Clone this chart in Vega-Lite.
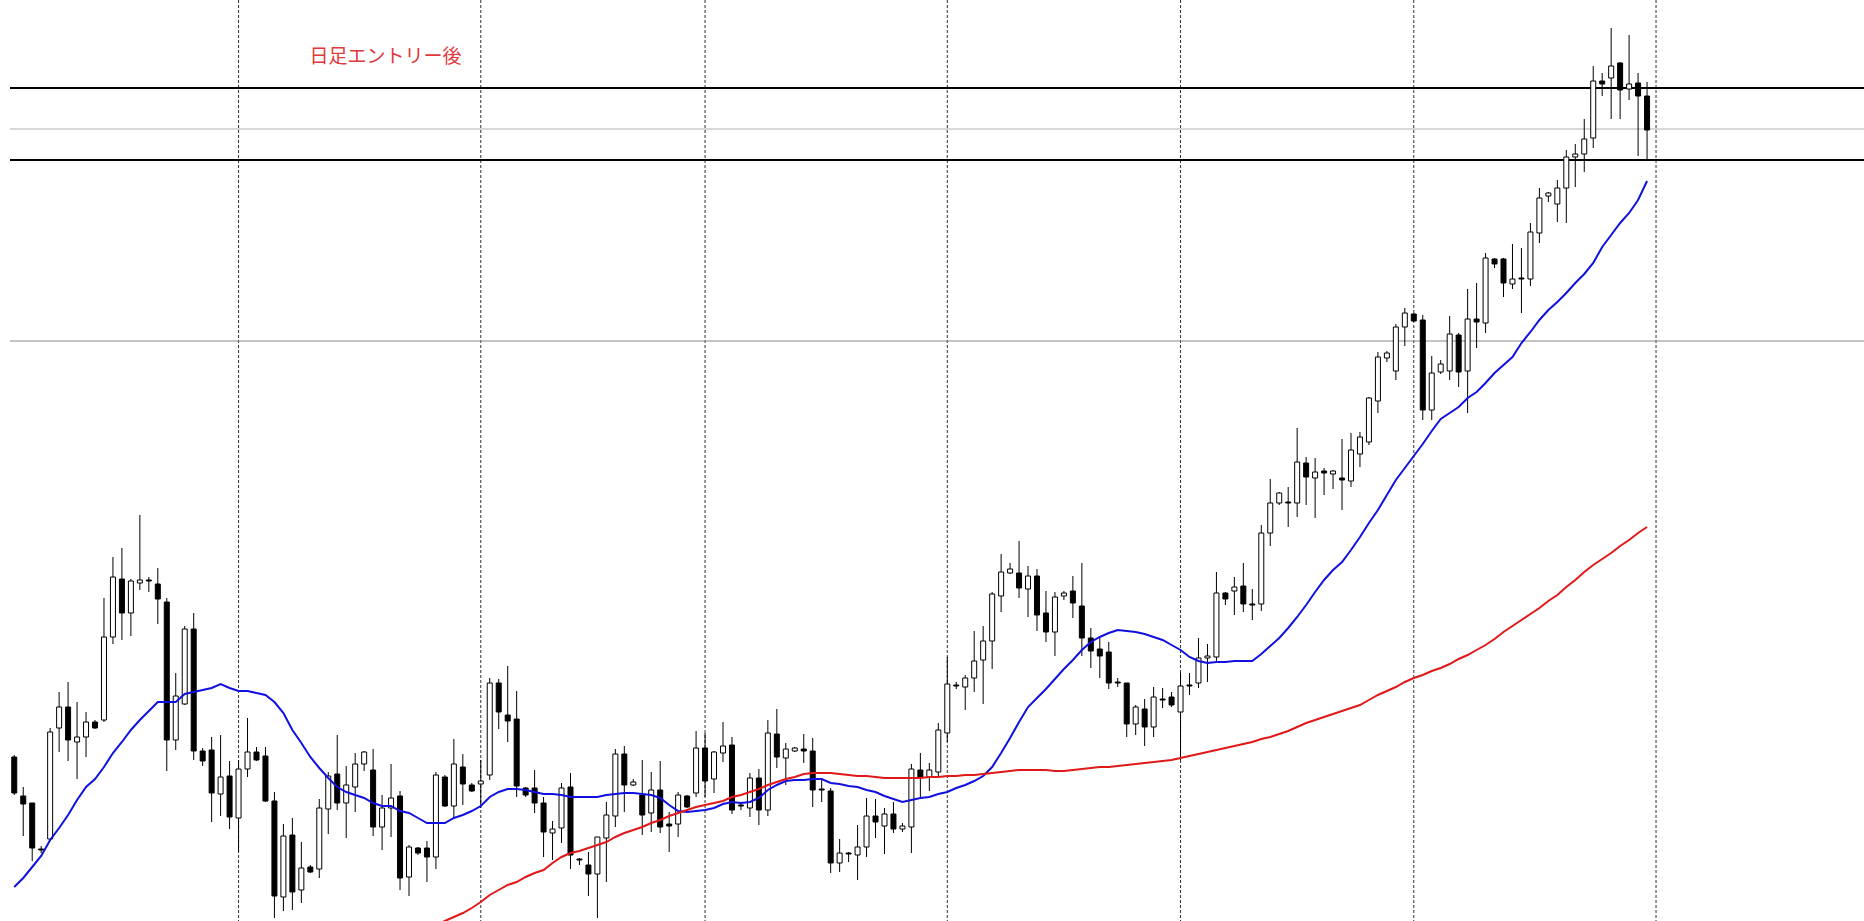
{
"$schema": "https://vega.github.io/schema/vega-lite/v6.json",
"width": 1864, "height": 921,
"autosize": {"type": "fit", "contains": "padding"},
"padding": {"left": 10, "top": 0, "right": 0, "bottom": 0},
"background": "white",
"config": {"view": {"stroke": null}},
"datasets": {
"candles": [
{"i":0,"o":243,"h":245,"l":205,"c":207,"b":113},
{"i":1,"o":204,"h":213,"l":164,"c":196,"b":122},
{"i":2,"o":197,"h":197,"l":139,"c":152,"b":133},
{"i":3,"o":151,"h":154,"l":147,"c":150,"b":144},
{"i":4,"o":161,"h":272,"l":160,"c":268,"b":160},
{"i":5,"o":272,"h":308,"l":248,"c":293,"b":172},
{"i":6,"o":293,"h":318,"l":239,"c":260,"b":185},
{"i":7,"o":258,"h":298,"l":221,"c":263,"b":200},
{"i":8,"o":263,"h":288,"l":243,"c":278,"b":213},
{"i":9,"o":278,"h":280,"l":271,"c":272,"b":221},
{"i":10,"o":280,"h":402,"l":278,"c":363,"b":233},
{"i":11,"o":363,"h":443,"l":356,"c":423,"b":247},
{"i":12,"o":421,"h":452,"l":360,"c":387,"b":258},
{"i":13,"o":387,"h":421,"l":364,"c":419,"b":270},
{"i":14,"o":417,"h":485,"l":410,"c":420,"b":280},
{"i":15,"o":420,"h":423,"l":408,"c":419,"b":289},
{"i":16,"o":416,"h":432,"l":376,"c":401,"b":298},
{"i":17,"o":398,"h":402,"l":229,"c":260,"b":298},
{"i":18,"o":260,"h":327,"l":250,"c":304,"b":298},
{"i":19,"o":296,"h":374,"l":295,"c":371,"b":306},
{"i":20,"o":371,"h":387,"l":240,"c":249,"b":308},
{"i":21,"o":249,"h":252,"l":234,"c":239,"b":310},
{"i":22,"o":250,"h":263,"l":178,"c":207,"b":312},
{"i":23,"o":206,"h":265,"l":184,"c":223,"b":316},
{"i":24,"o":224,"h":239,"l":171,"c":183,"b":312},
{"i":25,"o":182,"h":240,"l":148,"c":231,"b":309},
{"i":26,"o":231,"h":282,"l":223,"c":248,"b":309},
{"i":27,"o":248,"h":253,"l":239,"c":240,"b":307},
{"i":28,"o":244,"h":253,"l":198,"c":199,"b":305},
{"i":29,"o":199,"h":208,"l":82,"c":104,"b":298},
{"i":30,"o":103,"h":176,"l":89,"c":164,"b":287},
{"i":31,"o":165,"h":182,"l":90,"c":108,"b":270},
{"i":32,"o":110,"h":158,"l":97,"c":132,"b":257},
{"i":33,"o":133,"h":135,"l":127,"c":128,"b":243},
{"i":34,"o":131,"h":201,"l":122,"c":192,"b":232},
{"i":35,"o":191,"h":228,"l":166,"c":224,"b":222},
{"i":36,"o":226,"h":265,"l":190,"c":197,"b":213},
{"i":37,"o":197,"h":234,"l":162,"c":215,"b":208},
{"i":38,"o":213,"h":247,"l":188,"c":236,"b":205},
{"i":39,"o":236,"h":249,"l":229,"c":248,"b":202},
{"i":40,"o":230,"h":251,"l":164,"c":173,"b":197},
{"i":41,"o":173,"h":205,"l":150,"c":192,"b":194},
{"i":42,"o":192,"h":236,"l":163,"c":202,"b":194},
{"i":43,"o":204,"h":209,"l":110,"c":122,"b":189},
{"i":44,"o":123,"h":155,"l":104,"c":153,"b":187},
{"i":45,"o":152,"h":153,"l":145,"c":147,"b":182},
{"i":46,"o":152,"h":159,"l":118,"c":143,"b":177},
{"i":47,"o":143,"h":228,"l":131,"c":225,"b":177,"r":75},
{"i":48,"o":223,"h":225,"l":193,"c":194,"b":177,"r":79},
{"i":49,"o":194,"h":261,"l":182,"c":236,"b":182,"r":83},
{"i":50,"o":233,"h":246,"l":195,"c":216,"b":185,"r":87},
{"i":51,"o":215,"h":217,"l":208,"c":209,"b":189,"r":92},
{"i":52,"o":216,"h":240,"l":192,"c":219,"b":194,"r":98},
{"i":53,"o":225,"h":322,"l":220,"c":317,"b":203,"r":105},
{"i":54,"o":317,"h":321,"l":271,"c":288,"b":208,"r":110},
{"i":55,"o":285,"h":334,"l":258,"c":279,"b":211,"r":115},
{"i":56,"o":281,"h":309,"l":203,"c":214,"b":211,"r":118},
{"i":57,"o":212,"h":213,"l":203,"c":205,"b":210,"r":123},
{"i":58,"o":212,"h":230,"l":187,"c":197,"b":208,"r":127},
{"i":59,"o":197,"h":203,"l":143,"c":168,"b":206,"r":130},
{"i":60,"o":167,"h":179,"l":140,"c":171,"b":206,"r":137},
{"i":61,"o":172,"h":217,"l":157,"c":212,"b":205,"r":143},
{"i":62,"o":213,"h":227,"l":131,"c":145,"b":203,"r":147},
{"i":63,"o":141,"h":142,"l":135,"c":140,"b":203,"r":149},
{"i":64,"o":135,"h":148,"l":104,"c":126,"b":203,"r":152},
{"i":65,"o":126,"h":163,"l":82,"c":163,"b":203,"r":155},
{"i":66,"o":162,"h":198,"l":118,"c":185,"b":205,"r":158},
{"i":67,"o":184,"h":251,"l":173,"c":246,"b":206,"r":163},
{"i":68,"o":246,"h":254,"l":188,"c":215,"b":207,"r":167},
{"i":69,"o":215,"h":221,"l":214,"c":218,"b":207,"r":170},
{"i":70,"o":205,"h":240,"l":165,"c":185,"b":206,"r":173},
{"i":71,"o":187,"h":228,"l":168,"c":210,"b":205,"r":177},
{"i":72,"o":210,"h":239,"l":167,"c":173,"b":202,"r":180},
{"i":73,"o":176,"h":188,"l":148,"c":174,"b":195,"r":184},
{"i":74,"o":176,"h":208,"l":163,"c":205,"b":189,"r":187},
{"i":75,"o":204,"h":205,"l":192,"c":193,"b":188,"r":190},
{"i":76,"o":207,"h":269,"l":203,"c":252,"b":189,"r":193},
{"i":77,"o":252,"h":267,"l":203,"c":219,"b":190,"r":195},
{"i":78,"o":221,"h":249,"l":207,"c":248,"b":192,"r":197},
{"i":79,"o":247,"h":278,"l":238,"c":254,"b":196,"r":199},
{"i":80,"o":255,"h":263,"l":186,"c":190,"b":198,"r":203},
{"i":81,"o":195,"h":197,"l":190,"c":194,"b":197,"r":205},
{"i":82,"o":192,"h":227,"l":183,"c":222,"b":198,"r":208},
{"i":83,"o":222,"h":231,"l":175,"c":190,"b":202,"r":211},
{"i":84,"o":190,"h":280,"l":184,"c":267,"b":210,"r":215},
{"i":85,"o":266,"h":291,"l":232,"c":243,"b":215,"r":218},
{"i":86,"o":242,"h":257,"l":215,"c":251,"b":219,"r":221},
{"i":87,"o":249,"h":253,"l":248,"c":252,"b":220,"r":223},
{"i":88,"o":251,"h":266,"l":237,"c":249,"b":220,"r":226},
{"i":89,"o":249,"h":262,"l":193,"c":210,"b":221,"r":227},
{"i":90,"o":211,"h":220,"l":198,"c":210,"b":221,"r":227},
{"i":91,"o":209,"h":212,"l":127,"c":137,"b":217,"r":227},
{"i":92,"o":137,"h":161,"l":128,"c":147,"b":216,"r":226},
{"i":93,"o":147,"h":148,"l":138,"c":146,"b":214,"r":225},
{"i":94,"o":145,"h":175,"l":120,"c":153,"b":213,"r":224},
{"i":95,"o":153,"h":202,"l":143,"c":184,"b":210,"r":224},
{"i":96,"o":184,"h":201,"l":162,"c":178,"b":208,"r":223},
{"i":97,"o":174,"h":192,"l":146,"c":186,"b":204,"r":222},
{"i":98,"o":186,"h":198,"l":167,"c":171,"b":201,"r":222},
{"i":99,"o":171,"h":177,"l":168,"c":174,"b":198,"r":222},
{"i":100,"o":173,"h":236,"l":147,"c":231,"b":200,"r":222},
{"i":101,"o":230,"h":247,"l":203,"c":223,"b":202,"r":222},
{"i":102,"o":223,"h":237,"l":209,"c":230,"b":203,"r":223},
{"i":103,"o":228,"h":277,"l":223,"c":270,"b":206,"r":223},
{"i":104,"o":267,"h":343,"l":258,"c":316,"b":208,"r":224},
{"i":105,"o":315,"h":318,"l":311,"c":314,"b":212,"r":224},
{"i":106,"o":313,"h":325,"l":290,"c":322,"b":215,"r":225},
{"i":107,"o":322,"h":369,"l":308,"c":339,"b":219,"r":225},
{"i":108,"o":340,"h":374,"l":296,"c":359,"b":224,"r":226},
{"i":109,"o":359,"h":408,"l":331,"c":406,"b":233,"r":227},
{"i":110,"o":404,"h":446,"l":388,"c":428,"b":247,"r":228},
{"i":111,"o":427,"h":437,"l":426,"c":431,"b":262,"r":229},
{"i":112,"o":427,"h":459,"l":402,"c":412,"b":278,"r":230},
{"i":113,"o":411,"h":434,"l":383,"c":424,"b":293,"r":230},
{"i":114,"o":424,"h":431,"l":369,"c":385,"b":302,"r":230},
{"i":115,"o":387,"h":409,"l":358,"c":368,"b":311,"r":230},
{"i":116,"o":368,"h":408,"l":344,"c":403,"b":321,"r":229},
{"i":117,"o":404,"h":409,"l":400,"c":407,"b":331,"r":229},
{"i":118,"o":409,"h":424,"l":382,"c":397,"b":340,"r":230},
{"i":119,"o":394,"h":437,"l":344,"c":362,"b":350,"r":231},
{"i":120,"o":362,"h":372,"l":332,"c":349,"b":358,"r":232},
{"i":121,"o":351,"h":362,"l":322,"c":344,"b":363,"r":233},
{"i":122,"o":348,"h":358,"l":311,"c":317,"b":367,"r":233},
{"i":123,"o":318,"h":322,"l":313,"c":317,"b":370,"r":234},
{"i":124,"o":317,"h":317,"l":263,"c":276,"b":369,"r":235},
{"i":125,"o":276,"h":295,"l":265,"c":293,"b":368,"r":236},
{"i":126,"o":291,"h":301,"l":254,"c":273,"b":366,"r":237},
{"i":127,"o":273,"h":313,"l":263,"c":303,"b":363,"r":238},
{"i":128,"o":301,"h":312,"l":292,"c":300,"b":360,"r":239},
{"i":129,"o":303,"h":308,"l":293,"c":295,"b":355,"r":240},
{"i":130,"o":288,"h":327,"l":240,"c":314,"b":350,"r":242},
{"i":131,"o":315,"h":327,"l":305,"c":314,"b":343,"r":244},
{"i":132,"o":317,"h":362,"l":312,"c":342,"b":339,"r":246},
{"i":133,"o":342,"h":356,"l":318,"c":344,"b":337,"r":248},
{"i":134,"o":343,"h":428,"l":338,"c":407,"b":338,"r":250},
{"i":135,"o":407,"h":408,"l":395,"c":401,"b":338,"r":252},
{"i":136,"o":409,"h":423,"l":385,"c":413,"b":339,"r":254},
{"i":137,"o":414,"h":437,"l":388,"c":396,"b":339,"r":256},
{"i":138,"o":396,"h":411,"l":380,"c":395,"b":339,"r":258},
{"i":139,"o":396,"h":475,"l":389,"c":467,"b":346,"r":261},
{"i":140,"o":467,"h":521,"l":454,"c":497,"b":354,"r":263},
{"i":141,"o":497,"h":508,"l":495,"c":507,"b":362,"r":266},
{"i":142,"o":498,"h":513,"l":473,"c":497,"b":372,"r":269},
{"i":143,"o":497,"h":572,"l":483,"c":538,"b":383,"r":273},
{"i":144,"o":537,"h":543,"l":495,"c":523,"b":395,"r":277},
{"i":145,"o":522,"h":542,"l":482,"c":528,"b":408,"r":280},
{"i":146,"o":529,"h":532,"l":505,"c":527,"b":420,"r":283},
{"i":147,"o":526,"h":530,"l":511,"c":529,"b":430,"r":286},
{"i":148,"o":522,"h":561,"l":490,"c":520,"b":438,"r":289},
{"i":149,"o":519,"h":567,"l":513,"c":550,"b":450,"r":292},
{"i":150,"o":546,"h":568,"l":533,"c":563,"b":463,"r":295},
{"i":151,"o":558,"h":603,"l":555,"c":602,"b":477,"r":300},
{"i":152,"o":599,"h":648,"l":587,"c":643,"b":490,"r":305},
{"i":153,"o":642,"h":649,"l":638,"c":647,"b":505,"r":309},
{"i":154,"o":629,"h":676,"l":620,"c":673,"b":520,"r":313},
{"i":155,"o":673,"h":692,"l":654,"c":687,"b":532,"r":318},
{"i":156,"o":686,"h":687,"l":678,"c":679,"b":544,"r":322},
{"i":157,"o":680,"h":685,"l":580,"c":590,"b":556,"r":325},
{"i":158,"o":590,"h":644,"l":580,"c":627,"b":569,"r":329},
{"i":159,"o":628,"h":640,"l":626,"c":636,"b":581,"r":332},
{"i":160,"o":629,"h":684,"l":620,"c":666,"b":587,"r":336},
{"i":161,"o":665,"h":667,"l":613,"c":628,"b":593,"r":341},
{"i":162,"o":629,"h":711,"l":587,"c":681,"b":602,"r":345},
{"i":163,"o":681,"h":717,"l":652,"c":678,"b":608,"r":350},
{"i":164,"o":677,"h":747,"l":667,"c":742,"b":617,"r":355},
{"i":165,"o":741,"h":742,"l":732,"c":736,"b":627,"r":361},
{"i":166,"o":741,"h":742,"l":703,"c":717,"b":635,"r":368},
{"i":167,"o":716,"h":756,"l":711,"c":721,"b":643,"r":374},
{"i":168,"o":722,"h":752,"l":687,"c":721,"b":657,"r":380},
{"i":169,"o":721,"h":777,"l":714,"c":768,"b":668,"r":386},
{"i":170,"o":767,"h":812,"l":757,"c":802,"b":680,"r":392},
{"i":171,"o":804,"h":808,"l":798,"c":807,"b":690,"r":399},
{"i":172,"o":796,"h":820,"l":778,"c":812,"b":698,"r":405},
{"i":173,"o":812,"h":850,"l":777,"c":843,"b":707,"r":413},
{"i":174,"o":843,"h":856,"l":813,"c":846,"b":717,"r":420},
{"i":175,"o":846,"h":881,"l":828,"c":861,"b":726,"r":428},
{"i":176,"o":862,"h":934,"l":852,"c":919,"b":737,"r":435},
{"i":177,"o":919,"h":927,"l":904,"c":916,"b":753,"r":441},
{"i":178,"o":922,"h":972,"l":881,"c":934,"b":765,"r":447},
{"i":179,"o":937,"h":938,"l":881,"c":910,"b":777,"r":454},
{"i":180,"o":911,"h":965,"l":900,"c":916,"b":787,"r":460},
{"i":181,"o":917,"h":927,"l":844,"c":904,"b":800,"r":467},
{"i":182,"o":904,"h":918,"l":840,"c":870,"b":819,"r":473}
],
"seps": [{"i":25},{"i":52},{"i":77},{"i":104},{"i":130},{"i":156},{"i":183}],
"blackLevels": [{"level":912},{"level":840}],
"lightLevels": [{"level":871}],
"midLevels": [{"level":659}],
"labels": [{"i":32.9,"p":943.5,"text":"日足エントリー後"}]
},
"layer": [
{"data":{"name":"seps"},"mark":{"type":"rule","color":"#303030","strokeWidth":1,"strokeDash":[3,2],"clip":true},
 "encoding":{"x":{"field":"i","type":"quantitative","scale":{"domain":[0.082,205.625],"nice":false,"zero":false},"axis":null}}},
{"data":{"name":"lightLevels"},"mark":{"type":"rule","color":"#b0b0b0","strokeWidth":1,"clip":true},
 "encoding":{"y":{"field":"level","type":"quantitative","scale":{"domain":[79,1000],"nice":false,"zero":false},"axis":null}}},
{"data":{"name":"midLevels"},"mark":{"type":"rule","color":"#888888","strokeWidth":1,"clip":true},
 "encoding":{"y":{"field":"level","type":"quantitative","scale":{"domain":[79,1000],"nice":false,"zero":false},"axis":null}}},
{"data":{"name":"blackLevels"},"mark":{"type":"rule","color":"#000000","strokeWidth":2,"clip":true},
 "encoding":{"y":{"field":"level","type":"quantitative","scale":{"domain":[79,1000],"nice":false,"zero":false},"axis":null}}},
{"data":{"name":"candles"},"mark":{"type":"rule","color":"#000000","strokeWidth":1,"clip":true},
 "encoding":{
  "x":{"field":"i","type":"quantitative","scale":{"domain":[0.082,205.625],"nice":false,"zero":false},"axis":null},
  "y":{"field":"l","type":"quantitative","scale":{"domain":[79,1000],"nice":false,"zero":false},"axis":null},
  "y2":{"field":"h"}}},
{"data":{"name":"candles"},"mark":{"type":"bar","size":5,"stroke":"#000000","strokeWidth":1,"clip":true},
 "encoding":{
  "x":{"field":"i","type":"quantitative","scale":{"domain":[0.082,205.625],"nice":false,"zero":false},"axis":null},
  "y":{"field":"o","type":"quantitative","scale":{"domain":[79,1000],"nice":false,"zero":false},"axis":null},
  "y2":{"field":"c"},
  "fill":{"condition":{"test":"datum.c >= datum.o","value":"#ffffff"},"value":"#000000"}}},
{"data":{"name":"candles"},"mark":{"type":"line","color":"#1010e0","strokeWidth":2,"clip":true},
 "encoding":{
  "x":{"field":"i","type":"quantitative","scale":{"domain":[0.082,205.625],"nice":false,"zero":false},"axis":null},
  "y":{"field":"b","type":"quantitative","scale":{"domain":[79,1000],"nice":false,"zero":false},"axis":null}}},
{"data":{"name":"candles"},"transform":[{"filter":"isValid(datum.r)"}],"mark":{"type":"line","color":"#e01818","strokeWidth":2,"clip":true},
 "encoding":{
  "x":{"field":"i","type":"quantitative","scale":{"domain":[0.082,205.625],"nice":false,"zero":false},"axis":null},
  "y":{"field":"r","type":"quantitative","scale":{"domain":[79,1000],"nice":false,"zero":false},"axis":null}}},
{"data":{"name":"labels"},"mark":{"type":"text","align":"left","baseline":"middle","font":"Noto Sans CJK JP","fontSize":19,"color":"#e0383c"},
 "encoding":{
  "x":{"field":"i","type":"quantitative","scale":{"domain":[0.082,205.625],"nice":false,"zero":false},"axis":null},
  "y":{"field":"p","type":"quantitative","scale":{"domain":[79,1000],"nice":false,"zero":false},"axis":null},
  "text":{"field":"text"}}}
]
}
